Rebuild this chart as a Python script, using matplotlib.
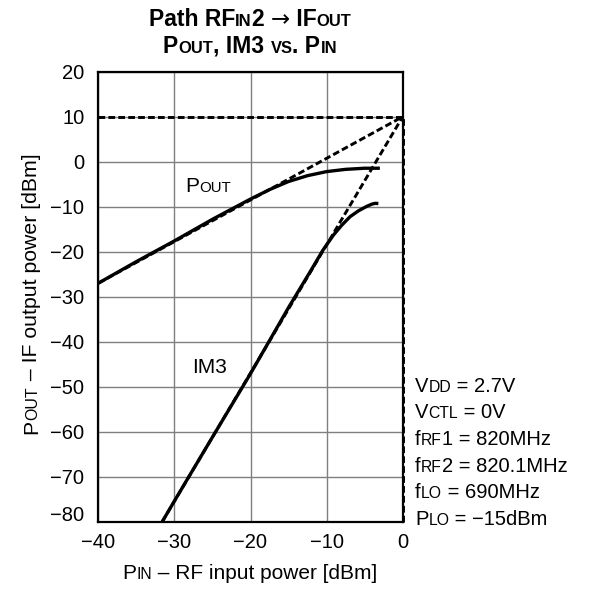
import numpy as np
import matplotlib
matplotlib.use('Agg')
import matplotlib.pyplot as plt
from matplotlib.transforms import ScaledTranslation

plt.rcParams['font.family'] = ['Liberation Sans', 'DejaVu Sans']

# Pout vs Pin (measured curve)
pin_pout = [-40, -35, -30, -25, -20, -17.5, -15, -12.5, -10, -7.5, -5, -3]
pout = [-27.0, -22.2, -17.6, -12.8, -8.3, -6.2, -4.4, -3.1, -2.2, -1.7, -1.45, -1.45]

# IM3 vs Pin (measured curve)
pin_im3 = [-31.6, -30, -25, -20, -15, -12, -10.5, -9.1, -8, -6.9, -5.8, -4.7, -4.0, -3.6, -3.2]
im3 = [-80, -75.4, -61.2, -47.1, -32.4, -24.0, -19.7, -16.3, -14.1, -12.2, -10.9, -9.9, -9.4, -9.25, -9.3]

# extrapolation lines (dashed) meeting at the intercept point
ip_pin, ip_out = 0, 10
pout_ext_x = [-40, ip_pin]
pout_ext_y = [-27, ip_out]
im3_ext_x = [-31.6, ip_pin]
im3_ext_y = [-80, ip_out]

xticks = [-40, -30, -20, -10, 0]
yticks = [-80, -70, -60, -50, -40, -30, -20, -10, 0, 10, 20]

W, H = 593, 589
fig = plt.figure(figsize=(W / 100, H / 100), dpi=100)
ax = fig.add_axes([98.3 / W, 1 - 521.7 / H, (402.7 - 98.3) / W, (521.7 - 71.7) / H])
renderer = fig.canvas.get_renderer()

dash = dict(color='black', lw=2.1, ls=(0, (2.3, 1.1)))
ax.plot([xticks[0], ip_pin], [ip_out, ip_out], **dash)
ax.plot([ip_pin, ip_pin], [yticks[0], ip_out], clip_on=False, **dash)
ax.plot(pout_ext_x, pout_ext_y, **dash)
ax.plot(im3_ext_x, im3_ext_y, **dash)
ax.plot(pin_pout, pout, color='black', lw=2.4, solid_capstyle='butt')
ax.plot(pin_im3, im3, color='black', lw=2.4, solid_capstyle='butt')

ax.set_xlim(-40, 0)
ax.set_ylim(-80, 20)
ax.set_xticks(xticks)
ax.set_yticks(yticks)
ax.grid(True, color='#7f7f7f', lw=1.0)
ax.set_axisbelow(True)
ax.tick_params(length=0, labelsize=14.5)
ax.tick_params(axis='x', pad=8)
ax.tick_params(axis='y', pad=10)
for s in ax.spines.values():
    s.set_linewidth(1.6)

# lowest y tick label sits a bit higher in the original
lbl = ax.get_yticklabels()[0]
lbl.set_transform(lbl.get_transform() + ScaledTranslation(0, 8 / 100, fig.dpi_scale_trans))

FAM = ['Liberation Sans', 'DejaVu Sans']


def width_of(s, size, weight, family):
    def w(txt):
        t = fig.text(0, 0, txt, fontsize=size, fontweight=weight, family=family)
        bb = t.get_window_extent(renderer)
        t.remove()
        return bb.width
    return w('|' + s + '|') - w('||')


def rich(x, y, pieces, size=14, weight='normal', rotation=0, ha='left', small=0.75):
    # x, y in display pixels (origin bottom left)
    # pieces: (text, small caps?[, font family[, weight]])
    items = []
    for p in pieces:
        fam = p[2] if len(p) > 2 else FAM
        wt = p[3] if len(p) > 3 else weight
        items.append((p[0], size * small if p[1] else size, fam, wt))
    widths = [width_of(s, sz, wt, fam) for s, sz, fam, wt in items]
    pos = -sum(widths) / 2 if ha == 'center' else 0
    a = np.deg2rad(rotation)
    for (s, sz, fam, wt), w in zip(items, widths):
        px = x + pos * np.cos(a)
        py = y + pos * np.sin(a)
        fig.text(px / W, py / H, s, fontsize=sz, fontweight=wt, family=fam,
                 rotation=rotation, rotation_mode='anchor', ha='left', va='baseline')
        pos += w


# title
rich(250, H - 26.5, [("Path RF", 0), ("IN", 1), ("2 ", 0), ("\u2192", 0, 'DejaVu Sans', 'normal'),
                     (" IF", 0), ("OUT", 1)],
     size=16.5, weight='bold', ha='center', small=0.72)
rich(250, H - 53, [("P", 0), ("OUT", 1), (", IM3 ", 0), ("VS", 1), (". P", 0), ("IN", 1)],
     size=16.5, weight='bold', ha='center', small=0.72)

# axis labels
rich(250, H - 579, [("P", 0), ("IN", 1), (" \u2013 RF input power [dBm]", 0)],
     size=15, ha='center')
rich(37, H - 294, [("P", 0), ("OUT", 1), (" \u2013 IF output power [dBm]", 0)],
     size=15.3, rotation=90, ha='center')

# curve labels
x0, y0 = ax.transData.transform((-28.6, -6.7))
rich(x0, y0, [("P", 0), ("OUT", 1)], size=15, small=0.72)
x0, y0 = ax.transData.transform((-27.7, -47.0))
rich(x0, y0, [("IM3", 0)], size=15)

# conditions
conds = [
    [("V", 0), ("DD", 1), (" = 2.7V", 0)],
    [("V", 0), ("CTL", 1), (" = 0V", 0)],
    [("f", 0), ("RF", 1), ("1 = 820MHz", 0)],
    [("f", 0), ("RF", 1), ("2 = 820.1MHz", 0)],
    [("f", 0), ("LO", 1), (" = 690MHz", 0)],
    [("P", 0), ("LO", 1), (" = \u221215dBm", 0)],
]
for i, line in enumerate(conds):
    rich(415, H - (391.7 + 26.7 * i), line, size=14.5, small=0.78)

fig.savefig('out.png', dpi=100)
